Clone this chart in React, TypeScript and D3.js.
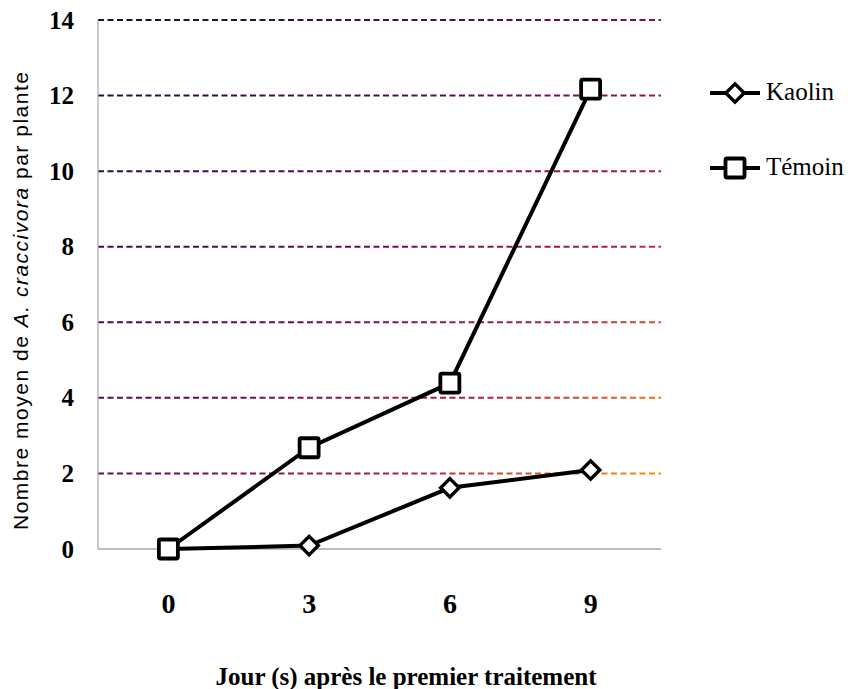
import React from "react";
import * as d3 from "d3";

const days = ["0", "3", "6", "9"];
const kaolin = [0, 0.09, 1.62, 2.09];
const temoin = [0, 2.68, 4.39, 12.17];
const yTicks = [0, 2, 4, 6, 8, 10, 12, 14];

const W = 853, H = 689;
const left = 98, right = 661, top = 20, bottom = 549;

export default function App() {
  const x = d3.scalePoint<string>().domain(days).range([left, right]).padding(0.5);
  const y = d3.scaleLinear().domain([0, 14]).range([bottom, top]);
  const line = d3.line<number>().x((_, i) => x(days[i])!).y((d) => y(d));

  const diamond = (cx: number, cy: number, key: string) => (
    <rect key={key} x={cx - 6.5} y={cy - 6.5} width={13} height={13} fill="#fff" stroke="#000" strokeWidth={3.4}
      transform={`rotate(45 ${cx} ${cy})`} />
  );
  const square = (cx: number, cy: number, key: string) => (
    <rect key={key} x={cx - 9.5} y={cy - 9.5} width={19} height={19} rx={1.5} fill="#fff" stroke="#000" strokeWidth={3.8} />
  );

  return (
    <svg width={W} height={H} style={{ display: "block", position: "absolute", left: 0, top: 0 }}>
      <defs>
        <linearGradient id="gridGrad" gradientUnits="userSpaceOnUse" x1={left} y1={top} x2={right} y2={bottom}>
          <stop offset="0" stopColor="#10104a" />
          <stop offset="0.45" stopColor="#6a0a5a" />
          <stop offset="0.7" stopColor="#b0204a" />
          <stop offset="0.85" stopColor="#e86a20" />
          <stop offset="1" stopColor="#ffb000" />
        </linearGradient>
      </defs>
      <rect width={W} height={H} fill="#fff" />
      {yTicks.filter((t) => t > 0).map((t) => (
        <line key={t} x1={left} x2={right} y1={y(t)} y2={y(t)} stroke="url(#gridGrad)" strokeWidth={2}
          strokeDasharray="6,3.5" />
      ))}
      <line x1={left} x2={left} y1={top} y2={bottom} stroke="#a8a8a8" strokeWidth={1.2} />
      <line x1={left} x2={right} y1={bottom} y2={bottom} stroke="#a8a8a8" strokeWidth={1.5} />
      {yTicks.map((t) => (
        <text key={t} x={74} y={y(t) + 8.5} textAnchor="end" fontFamily="Liberation Serif" fontWeight="bold"
          fontSize={25} fill="#000">{t}</text>
      ))}
      {days.map((d) => (
        <text key={d} x={x(d)!} y={613} textAnchor="middle" fontFamily="Liberation Serif" fontWeight="bold"
          fontSize={28} fill="#000">{d}</text>
      ))}
      <text transform={`translate(28,301) rotate(-90)`} textAnchor="middle"
        fontFamily="Liberation Sans" fontSize={21} fill="#000" textLength={458} lengthAdjust="spacing">
        Nombre moyen de <tspan fontStyle="italic">A. craccivora</tspan> par plante
      </text>
      <text x={406} y={685} textAnchor="middle" fontFamily="Liberation Serif" fontWeight="bold" fontSize={25}
        fill="#000" textLength={381} lengthAdjust="spacing">Jour (s) après le premier traitement</text>

      <path d={line(temoin)!} fill="none" stroke="#000" strokeWidth={4} />
      <path d={line(kaolin)!} fill="none" stroke="#000" strokeWidth={4} />
      {kaolin.map((v, i) => diamond(x(days[i])!, y(v), "k" + i))}
      {temoin.map((v, i) => square(x(days[i])!, y(v), "t" + i))}

      <line x1={710} x2={760} y1={93} y2={93} stroke="#000" strokeWidth={4} />
      {diamond(735, 93, "lk")}
      <text x={766} y={100} fontFamily="Liberation Serif" fontSize={25} fill="#000">Kaolin</text>
      <line x1={710} x2={760} y1={168} y2={168} stroke="#000" strokeWidth={4} />
      {square(735, 168, "lt")}
      <text x={766} y={175} fontFamily="Liberation Serif" fontSize={25} fill="#000">Témoin</text>
    </svg>
  );
}
